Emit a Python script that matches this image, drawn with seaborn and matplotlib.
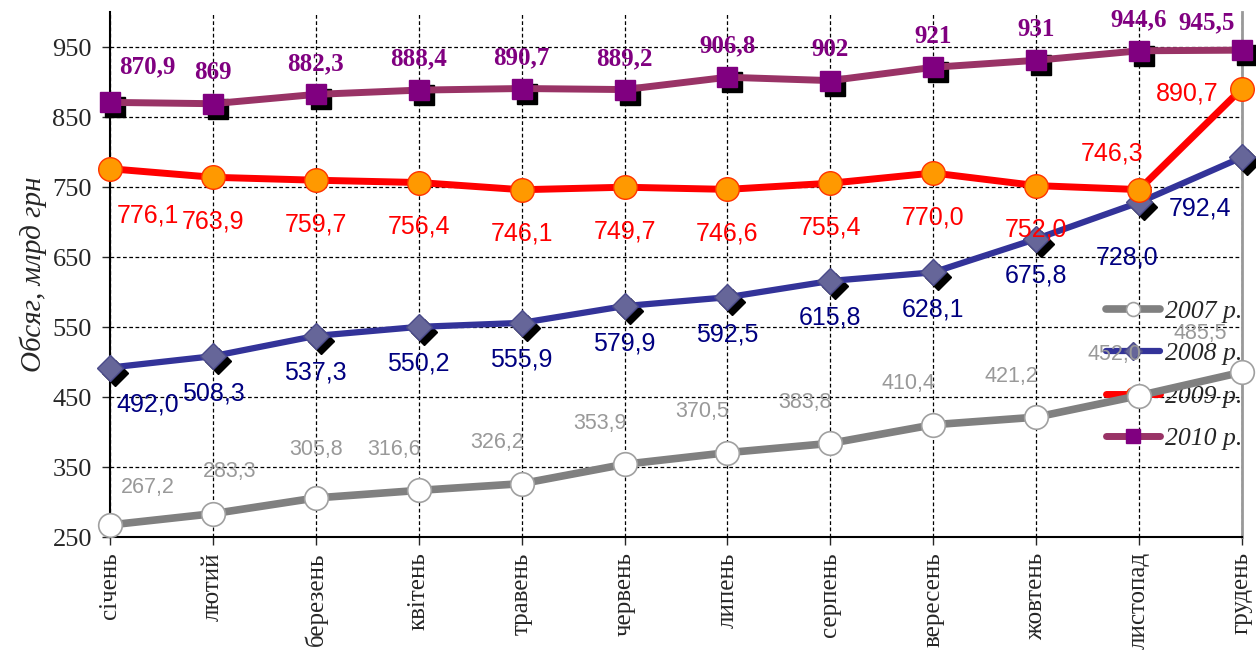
import matplotlib
matplotlib.use("Agg")
import matplotlib.pyplot as plt
import matplotlib.transforms as mtransforms
import seaborn as sns
import numpy as np

months = ["січень", "лютий", "березень", "квітень", "травень", "червень",
          "липень", "серпень", "вересень", "жовтень", "листопад", "грудень"]
s2007 = [267.2, 283.3, 305.8, 316.6, 326.2, 353.9, 370.5, 383.8, 410.4, 421.2, 452.0, 485.5]
s2008 = [492.0, 508.3, 537.3, 550.2, 555.9, 579.9, 592.5, 615.8, 628.1, 675.8, 728.0, 792.4]
s2009 = [776.1, 763.9, 759.7, 756.4, 746.1, 749.7, 746.6, 755.4, 770.0, 752.0, 746.3, 890.7]
s2010 = [870.9, 869, 882.3, 888.4, 890.7, 889.2, 906.8, 902, 921, 931, 944.6, 945.5]
series_names = ["2007 р.", "2008 р.", "2009 р.", "2010 р."]
y_ticks = [250, 350, 450, 550, 650, 750, 850, 950]
y_label = "Обсяг, млрд грн"

sns.set_theme(style="white")
plt.rcParams["font.family"] = ["Liberation Serif", "DejaVu Serif"]

fig = plt.figure(figsize=(12.56, 6.52), dpi=100)
ax = fig.add_axes([110 / 1256, 1 - 537 / 652, 1132 / 1256, 525 / 652])
x = np.arange(len(months))

# shadow transform (offset in pixels)
shadow_tr = mtransforms.offset_copy(ax.transData, fig=fig, x=5, y=-5, units="dots")

# 2007
sns.lineplot(x=x, y=s2007, ax=ax, color="#808080", linewidth=5.5, marker="o",
             markersize=17, markerfacecolor="white", markeredgecolor="#a0a0a0",
             markeredgewidth=1.2, label=series_names[0], zorder=6, clip_on=False)
# 2008
ax.plot(x, s2008, linestyle="", marker="D", markersize=13, color="black",
        transform=shadow_tr, zorder=3, clip_on=False, label="_nolegend_")
sns.lineplot(x=x, y=s2008, ax=ax, color="#333399", linewidth=4.5, marker="D",
             markersize=13, markerfacecolor="#666699", markeredgecolor="#4a4a8a",
             markeredgewidth=1.0, label=series_names[1], zorder=4, clip_on=False)
# 2009
sns.lineplot(x=x, y=s2009, ax=ax, color="#ff0000", linewidth=5, marker="o",
             markersize=17, markerfacecolor="#ff9900", markeredgecolor="#ff3300",
             markeredgewidth=1.0, label=series_names[2], zorder=5, clip_on=False)
# 2010
ax.plot(x, s2010, linestyle="", marker="s", markersize=15, color="black",
        transform=shadow_tr, zorder=3, clip_on=False, label="_nolegend_")
sns.lineplot(x=x, y=s2010, ax=ax, color="#993366", linewidth=5, marker="s",
             markersize=15, markerfacecolor="#800080", markeredgecolor="#800080",
             markeredgewidth=1.0, label=series_names[3], zorder=4, clip_on=False)


def add_labels(vals, fmt, color, size, weight, family, first, mid, last, extra=None):
    n = len(vals)
    for i, v in enumerate(vals):
        if i == 0:
            off = first
        elif i == n - 1:
            off = last
        else:
            off = mid
        if extra and i in extra:
            off = extra[i]
        ax.annotate(fmt(v).replace(".", ","), (x[i], v), xytext=(off[0], -off[1]),
                    textcoords="offset pixels", ha="center", va="center",
                    color=color, fontsize=size, fontweight=weight, family=family,
                    zorder=7, annotation_clip=False)


add_labels(s2007, lambda v: f"{v:.1f}", "#999999", 15.5, "normal", ["Liberation Sans"],
           (38, -37), (-25, -41), (-42, -39), extra={1: (17, -42), 2: (0, -48)})
add_labels(s2008, lambda v: f"{v:.1f}", "#000080", 18, "normal", ["Liberation Sans"],
           (38, 37), (0, 37), (-42, 51), extra={10: (-12, 55)})
add_labels(s2009, lambda v: f"{v:.1f}", "#ff0000", 18, "normal", ["Liberation Sans"],
           (38, 47), (0, 44), (-55, 5), extra={10: (-27, -36)})
add_labels(s2010, lambda v: f"{v:g}", "#800080", 18, "bold", ["Liberation Serif"],
           (37, -36), (0, -31), (-35, -27))

ax.set_xlim(0, len(months) - 1)
ax.set_ylim(250, 1000)
ax.set_yticks(y_ticks)
ax.set_xticks(x)
ax.set_xticklabels(months, rotation=90, fontsize=18, va="top")
ax.tick_params(axis="y", labelsize=19, length=6, width=1, direction="out", left=True, pad=7)
ax.tick_params(axis="x", length=6, width=1, direction="out", bottom=True, pad=5)
ax.set_ylabel(y_label, fontsize=21, fontstyle="italic", labelpad=4)
ax.set_xlabel("")

ax.grid(True, color="black", linestyle=(0, (3, 2)), linewidth=0.9)
ax.set_axisbelow(True)
for side in ["left", "bottom"]:
    ax.spines[side].set_color("black")
    ax.spines[side].set_linewidth(1.5)
ax.spines["top"].set_visible(False)
ax.spines["right"].set_color("#999999")
ax.spines["right"].set_linewidth(2)

leg = ax.legend(loc="upper right", bbox_to_anchor=(1.003, 0.457), frameon=False,
                prop={"family": "Liberation Serif", "style": "italic", "size": 18.5},
                handlelength=2.1, handletextpad=0.2, labelspacing=0.76,
                borderaxespad=0, borderpad=0.1)
leg.set_zorder(2)
for h, ms in zip(leg.legend_handles, [10, 9, 10, 10]):
    h.set_markersize(ms)

fig.savefig("out.png", dpi=100)
